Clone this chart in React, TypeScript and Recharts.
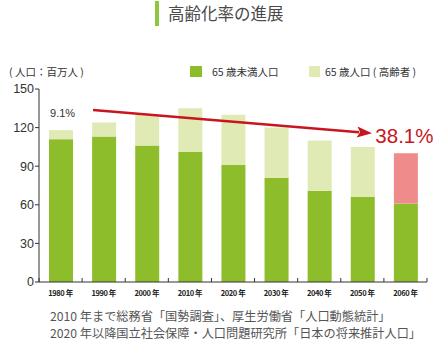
import React from 'react';
import { BarChart, Bar, XAxis, YAxis, Cell, ReferenceLine, ReferenceDot, Label } from 'recharts';

const years = ['1980年', '1990年', '2000年', '2010年', '2020年', '2030年', '2040年', '2050年', '2060年'];
const under65 = [111, 113, 106, 101, 91, 81, 71, 66, 61];
const over65 = [7, 11, 24, 34, 39, 39, 39, 39, 39];
const yTicks = [0, 30, 60, 90, 120, 150];
const title = '高齢化率の進展';
const unitLabel = '( 人口：百万人 )';
const legendNames = ['65 歳未満人口', '65 歳人口 ( 高齢者 )'];
const startRate = '9.1%';
const endRate = '38.1%';
const footnotes = [
  '2010 年まで総務省「国勢調査」、厚生労働省「人口動態統計」',
  '2020 年以降国立社会保障・人口問題研究所「日本の将来推計人口」',
];

const data = years.map((y, i) => ({ year: y, under: under65[i], over: over65[i] }));

const GREEN = '#8dbd2b';
const LIGHT = '#e0eab5';
const PINK = '#ef8b8b';
const RED = '#c8161e';
const FONT = '"Noto Sans CJK JP", "Liberation Sans", sans-serif';

const XTick = (props: any) => {
  const { x, y, payload, index } = props;
  const half = 21.55;
  const axisY = y - 8;
  const label = String(payload.value).replace('年', ' 年');
  return (
    <g>
      <line x1={x - half} x2={x - half} y1={axisY} y2={axisY - 4} stroke="#333" strokeWidth={1} />
      {index === years.length - 1 && (
        <line x1={x + half} x2={x + half} y1={axisY} y2={axisY - 4} stroke="#333" strokeWidth={1} />
      )}
      <text x={x} y={y + 6} textAnchor="middle" fontSize={7.5} fontWeight="bold" fill="#222" letterSpacing={-0.4} fontFamily={FONT}>
        {label}
      </text>
    </g>
  );
};

const Arrow = (props: any) => {
  const { x1, y1, x2, y2 } = props;
  if ([x1, y1, x2, y2].some((v) => v === undefined || isNaN(v))) return null;
  const dx = x2 - x1;
  const dy = y2 - y1;
  const len = Math.sqrt(dx * dx + dy * dy);
  const ux = dx / len;
  const uy = dy / len;
  const sx = x1 - ux * 10.7;
  const sy = y1 - uy * 10.7;
  const tx = x2 + ux * 9.7;
  const ty = y2 + uy * 9.7;
  const headLen = 15;
  const headW = 5.5;
  const bx = tx - ux * headLen;
  const by = ty - uy * headLen;
  const px = -uy;
  const py = ux;
  return (
    <g>
      <line x1={sx} y1={sy} x2={bx + ux * 2} y2={by + uy * 2} stroke={RED} strokeWidth={2.4} />
      <polygon
        points={`${tx},${ty} ${bx + px * headW},${by + py * headW} ${bx + ux * 3},${by + uy * 3} ${bx - px * headW},${by - py * headW}`}
        fill={RED}
      />
    </g>
  );
};

export default function App() {
  return (
    <div style={{ position: 'absolute', left: 0, top: 0, width: 439, height: 342, background: '#fff', fontFamily: FONT }}>
      <div style={{ position: 'absolute', left: 155, top: 1, width: 4, height: 25, background: '#8dc63f' }} />
      <div style={{ position: 'absolute', left: 168, top: 1, fontSize: 16.5, lineHeight: '24px', color: '#4a4a4a', whiteSpace: 'nowrap' }}>
        {title}
      </div>
      <div style={{ position: 'absolute', left: 9, top: 64, fontSize: 10.5, lineHeight: '16px', color: '#333', whiteSpace: 'nowrap' }}>
        {unitLabel}
      </div>
      <div style={{ position: 'absolute', left: 190, top: 66, width: 12, height: 11, background: GREEN }} />
      <div style={{ position: 'absolute', left: 212, top: 64, fontSize: 10.5, lineHeight: '16px', color: '#333', whiteSpace: 'nowrap' }}>
        {legendNames[0]}
      </div>
      <div style={{ position: 'absolute', left: 309, top: 66, width: 11, height: 11, background: LIGHT }} />
      <div style={{ position: 'absolute', left: 325, top: 64, fontSize: 10.5, lineHeight: '16px', color: '#333', whiteSpace: 'nowrap' }}>
        {legendNames[1]}
      </div>
      <div style={{ position: 'absolute', left: 0, top: 0 }}>
        <BarChart width={439} height={342} data={data} margin={{ top: 89, right: 12, bottom: 30, left: 9 }} barSize={24}>
          <XAxis
            dataKey="year"
            axisLine={{ stroke: '#333' }}
            tickLine={false}
            tick={<XTick />}
            interval={0}
            height={30}
          />
          <YAxis
            domain={[0, 150]}
            ticks={yTicks}
            width={30}
            axisLine={{ stroke: '#333' }}
            tickLine={{ stroke: '#333' }}
            tickSize={4}
            tickMargin={1}
            tick={{ fontSize: 12.5, fill: '#333', fontFamily: '"Liberation Sans", Arial, sans-serif' }}
          />
          <Bar dataKey="under" stackId="a" fill={GREEN} isAnimationActive={false} />
          <Bar dataKey="over" stackId="a" fill={LIGHT} isAnimationActive={false}>
            {data.map((d, i) => (
              <Cell key={d.year} fill={i === data.length - 1 ? PINK : LIGHT} />
            ))}
          </Bar>
          <ReferenceLine
            segment={[{ x: '1990年', y: 133 }, { x: '2050年', y: 116.2 }]}
            shape={<Arrow />}
            ifOverflow="visible"
          />
          <ReferenceDot x="1980年" y={131} r={0} fill="none" stroke="none" ifOverflow="visible">
            <Label value={startRate} position="center" fontSize={11} fill="#333" fontFamily='"Liberation Sans", Arial, sans-serif' dx={2} />
          </ReferenceDot>
          <ReferenceDot x="2060年" y={114} r={0} fill="none" stroke="none" ifOverflow="visible">
            <Label value={endRate} position="center" fontSize={20.5} fill={RED} fontFamily='"Liberation Sans", Arial, sans-serif' dx={-1} />
          </ReferenceDot>
        </BarChart>
      </div>
      <div style={{ position: 'absolute', left: 50, top: 308, fontSize: 12.2, lineHeight: '16.5px', color: '#555', whiteSpace: 'nowrap' }}>
        <div>{footnotes[0]}</div>
        <div>{footnotes[1]}</div>
      </div>
    </div>
  );
}
